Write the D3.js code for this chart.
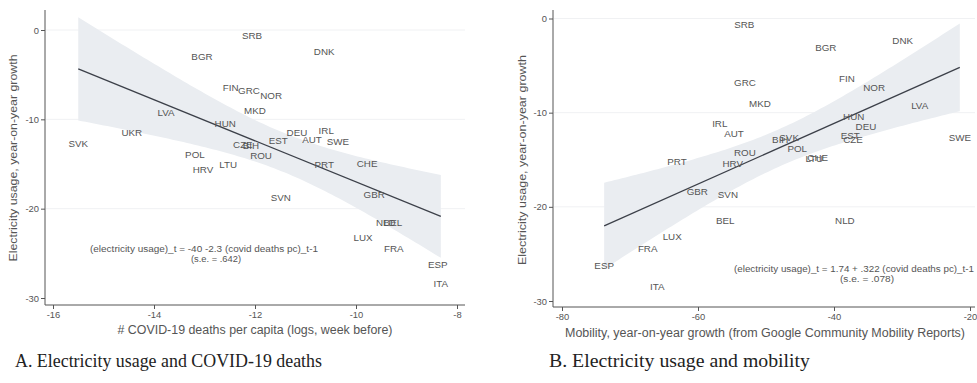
<!DOCTYPE html>
<html>
<head>
<meta charset="utf-8">
<script src="https://cdn.jsdelivr.net/npm/d3@7"></script>
<style>
  html, body { margin: 0; padding: 0; background: #fff; }
  svg { display: block; }
  .lbl { font-family: Arial, "Liberation Sans", sans-serif; fill: #555; }
</style>
</head>
<body>
<svg id="chart" width="977" height="383"></svg>
<script>
// Panel A: electricity usage growth vs. log COVID-19 deaths per capita (week before)
const countriesA = ["SRB","DNK","BGR","FIN","GRC","NOR","MKD","LVA","HUN","UKR","SVK","CZE","BIH","EST","DEU","AUT","IRL","SWE","POL","ROU","HRV","LTU","PRT","CHE","SVN","GBR","NLD","BEL","LUX","FRA","ESP","ITA"];
const deathsA = [-12.06,-10.63,-13.05,-12.48,-12.12,-11.68,-12.0,-13.76,-12.59,-14.44,-15.5,-12.24,-12.08,-11.54,-11.17,-10.87,-10.59,-10.36,-13.19,-11.88,-13.03,-12.53,-10.63,-9.78,-11.49,-9.64,-9.41,-9.27,-9.86,-9.25,-8.38,-8.32];
const elecA = [-0.6,-2.35,-3.0,-6.4,-6.8,-7.3,-8.96,-9.2,-10.5,-11.5,-12.7,-12.8,-12.9,-12.4,-11.5,-12.2,-11.2,-12.5,-13.9,-14.1,-15.6,-15.0,-15.0,-14.9,-18.7,-18.4,-21.5,-21.5,-23.2,-24.5,-26.3,-28.4];

// Panel B: electricity usage growth vs. mobility growth
const countriesB = ["SRB","BGR","DNK","GRC","FIN","NOR","MKD","LVA","HUN","DEU","EST","CZE","SWE","IRL","AUT","BIH","SVK","POL","LTU","CHE","ROU","HRV","PRT","GBR","SVN","BEL","NLD","LUX","FRA","ESP","ITA"];
const mobilityB = [-53.2,-41.2,-29.9,-53.1,-38.1,-34.1,-50.9,-27.4,-37.1,-35.3,-37.6,-37.2,-21.5,-56.8,-54.7,-47.9,-46.6,-45.4,-42.9,-42.4,-53.1,-54.9,-63.1,-60.1,-55.6,-56.0,-38.4,-63.8,-67.4,-73.8,-66.0];
const elecB = [-0.6,-3.1,-2.3,-6.8,-6.4,-7.3,-9.0,-9.2,-10.4,-11.5,-12.4,-12.8,-12.6,-11.2,-12.2,-12.8,-12.6,-13.8,-14.9,-14.8,-14.2,-15.4,-15.2,-18.4,-18.7,-21.4,-21.4,-23.2,-24.4,-26.2,-28.5];

// Reported regression coefficients
const interceptA = -40, slopeA = -2.3, seA = 0.642;
const interceptB = 1.74, slopeB = 0.322, seB = 0.078;

// Axis ticks
const yTicks = [0, -10, -20, -30];
const xTicksA = [-16, -14, -12, -10, -8];
const xTicksB = [-80, -60, -40, -20];

// Titles and captions
const yTitle = "Electricity usage, year-on-year growth";
const xTitleA = "# COVID-19 deaths per capita (logs, week before)";
const xTitleB = "Mobility, year-on-year growth (from Google Community Mobility Reports)";
const eqA = ["(electricity usage)_t = -40  -2.3 (covid deaths pc)_t-1", "(s.e. = .642)"];
const eqB = ["(electricity usage)_t = 1.74 + .322 (covid deaths pc)_t-1", "(s.e. = .078)"];
const captionA = "A. Electricity usage and COVID-19 deaths";
const captionB = "B. Electricity usage and mobility";

const svg = d3.select("#chart");
const tCrit = 2.045;

function panel(cfg) {
  const g = svg.append("g");
  const x = d3.scaleLinear().domain(cfg.xDomain).range(cfg.xRange);
  const y = d3.scaleLinear().domain([0, -30]).range(cfg.yRange);
  const [left, right, top, bottom] = cfg.frame;

  // faint horizontal grid
  g.selectAll("line.grid").data(yTicks.slice(0, 3)).join("line")
    .attr("x1", left + 1).attr("x2", right)
    .attr("y1", d => y(d)).attr("y2", d => y(d))
    .attr("stroke", "#f0f1f3").attr("stroke-width", 1);

  // confidence band of the fitted line
  const xs = cfg.xs;
  const xbar = d3.mean(xs);
  const varx = d3.mean(xs, v => (v - xbar) ** 2);
  const [xmin, xmax] = d3.extent(xs);
  const grid = d3.range(0, 101).map(i => xmin + (xmax - xmin) * i / 100);
  const fit = v => cfg.a + cfg.b * v;
  const half = v => tCrit * cfg.se * Math.sqrt(varx + (v - xbar) ** 2);
  g.append("path")
    .datum(grid)
    .attr("d", d3.area().x(v => x(v)).y0(v => y(fit(v) - half(v))).y1(v => y(fit(v) + half(v))))
    .attr("fill", "#eaedf1");

  // fitted line
  g.append("line")
    .attr("x1", x(xmin)).attr("y1", y(fit(xmin)))
    .attr("x2", x(xmax)).attr("y2", y(fit(xmax)))
    .attr("stroke", "#3c4049").attr("stroke-width", 1.3);

  // country labels
  g.selectAll("text.pt").data(cfg.names).join("text")
    .attr("class", "lbl")
    .attr("x", (d, i) => x(xs[i]))
    .attr("y", (d, i) => y(cfg.ys[i]))
    .attr("dy", "0.36em")
    .attr("text-anchor", "middle")
    .attr("font-size", 9.8)
    .text(d => d);

  // axes
  const yAxis = g.append("g").attr("transform", `translate(${left},0)`)
    .call(d3.axisLeft(y).tickValues(yTicks).tickSize(4).tickPadding(2).tickFormat(d => String(d)));
  yAxis.select(".domain").attr("d", `M0,${top}V${bottom}`);
  const xAxis = g.append("g").attr("transform", `translate(0,${bottom})`)
    .call(d3.axisBottom(x).tickValues(cfg.xTicks).tickSize(4).tickPadding(2).tickFormat(d => String(d)));
  xAxis.select(".domain").attr("d", `M${left},0H${right}`);
  [yAxis, xAxis].forEach(ax => {
    ax.selectAll(".domain, .tick line").attr("stroke", "#555").attr("stroke-width", 1);
    ax.selectAll(".tick text").attr("fill", "#555").attr("font-size", 9.4)
      .attr("font-family", "Arial, 'Liberation Sans', sans-serif");
  });

  // axis titles
  g.append("text").attr("class", "lbl")
    .attr("transform", `translate(${cfg.yTitlePos[0]},${cfg.yTitlePos[1]}) rotate(-90)`)
    .attr("text-anchor", "middle").attr("dy", "0.36em")
    .attr("font-size", 11.5).attr("fill", "#444")
    .attr("textLength", cfg.yTitleLen).attr("lengthAdjust", "spacingAndGlyphs")
    .text(yTitle);
  g.append("text").attr("class", "lbl")
    .attr("x", cfg.xTitlePos[0]).attr("y", cfg.xTitlePos[1])
    .attr("text-anchor", "middle").attr("dy", "0.36em")
    .attr("font-size", 12).attr("fill", "#444")
    .attr("textLength", cfg.xTitleLen).attr("lengthAdjust", "spacingAndGlyphs")
    .text(cfg.xTitle);

  // regression equation
  cfg.eq.forEach((s, i) => {
    g.append("text").attr("class", "lbl")
      .attr("x", cfg.eqPos[i][0]).attr("y", cfg.eqPos[i][1])
      .attr("dy", "0.36em").attr("text-anchor", "middle")
      .attr("font-size", 9.2).attr("fill", "#555")
      .attr("textLength", cfg.eqLen[i]).attr("lengthAdjust", "spacingAndGlyphs")
      .text(s);
  });

  // caption
  svg.append("text")
    .attr("x", cfg.capPos[0]).attr("y", cfg.capPos[1])
    .attr("font-family", "'Liberation Serif', 'Times New Roman', serif")
    .attr("font-size", 19).attr("fill", "#222")
    .attr("textLength", cfg.capLen).attr("lengthAdjust", "spacingAndGlyphs")
    .text(cfg.caption);
}

panel({
  names: countriesA, xs: deathsA, ys: elecA,
  a: interceptA, b: slopeA, se: seA,
  xDomain: [-16, -8], xRange: [53, 457], yRange: [30, 298],
  frame: [45, 465, 10, 305],
  xTicks: xTicksA, xTitle: xTitleA, xTitleLen: 275, yTitleLen: 207,
  yTitlePos: [13, 158], xTitlePos: [255, 330],
  eq: eqA, eqPos: [[204, 249], [216, 259]], eqLen: [228, 50],
  caption: captionA, capPos: [15, 367], capLen: 307
});

panel({
  names: countriesB, xs: mobilityB, ys: elecB,
  a: interceptB, b: slopeB, se: seB,
  xDomain: [-80, -20], xRange: [562, 970], yRange: [18.5, 301],
  frame: [553, 975, 10, 307],
  xTicks: xTicksB, xTitle: xTitleB, xTitleLen: 400, yTitleLen: 210,
  yTitlePos: [522, 160], xTitlePos: [765, 333],
  eq: eqB, eqPos: [[854, 269], [867, 279]], eqLen: [240, 54],
  caption: captionB, capPos: [549, 367], capLen: 261
});
</script>
</body>
</html>
